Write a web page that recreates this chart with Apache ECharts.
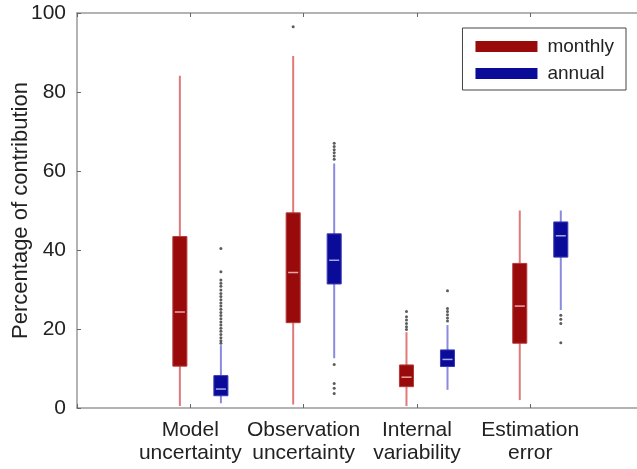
<!DOCTYPE html>
<html>
<head>
<meta charset="utf-8">
<script src="https://cdn.jsdelivr.net/npm/echarts@6/dist/echarts.min.js"></script>
<style>
  html, body { margin: 0; padding: 0; background: #fff; }
  #chart { width: 637px; height: 469px; }
</style>
</head>
<body>
<div id="chart"></div>
<script>
// categories along x
var categories = ['Model\nuncertainty', 'Observation\nuncertainty', 'Internal\nvariability', 'Estimation\nerror'];
var yTicks = [0, 20, 40, 60, 80, 100];

// box stats per category: [whisker low, q1, median, q3, whisker high]
var monthlyBoxes = [
    [0.5, 10.6, 24.3, 43.4, 84.1],
    [0.9, 21.6, 34.3, 49.4, 89.1],
    [0.5, 5.4, 7.8, 10.9, 19.2],
    [2.0, 16.4, 25.8, 36.6, 50.0]
];
var annualBoxes = [
    [1.2, 3.1, 4.8, 8.2, 15.9],
    [12.6, 31.4, 37.4, 44.1, 61.9],
    [4.6, 10.5, 12.3, 14.7, 21.0],
    [24.8, 38.2, 43.6, 47.1, 50.0]
];

// outliers per category
var monthlyOutliers = [
    [],
    [96.5],
    [24.4, 23.1, 22.3, 21.4, 20.6, 19.9],
    []
];
var annualOutliers = [
    [40.4, 34.5, 32.4, 31.6, 30.8, 29.9, 29.0, 28.2, 27.4, 26.6, 25.8, 25.0, 24.2, 23.4, 22.6, 21.8, 21.0, 20.2, 19.4, 18.6, 17.8, 17.0, 16.4],
    [67.0, 66.2, 65.4, 64.6, 63.8, 63.0, 11.0, 6.2, 5.0, 3.7],
    [29.7, 25.2, 24.4, 23.6, 22.8, 22.0],
    [23.5, 22.5, 21.4, 16.5]
];

var chart = echarts.init(document.getElementById('chart'));

var monthlyShift = -0.092, annualShift = 0.27, boxW = 0.124;

function boxData(boxes, shift) {
    return boxes.map(function (b, i) { return [i + 1 + shift].concat(b); });
}
function outlierData(list, shift) {
    var out = [];
    list.forEach(function (vals, i) {
        vals.forEach(function (v) { out.push([i + 1 + shift, v]); });
    });
    return out;
}

function makeRender(fill, edge, whisker, median) {
    return function (params, api) {
        var x = api.value(0);
        var lo = api.coord([x, api.value(1)]);
        var q1 = api.coord([x, api.value(2)]);
        var md = api.coord([x, api.value(3)]);
        var q3 = api.coord([x, api.value(4)]);
        var hi = api.coord([x, api.value(5)]);
        var w = api.size([boxW, 0])[0];
        var cx = lo[0];
        return {
            type: 'group',
            children: [
                { type: 'line', shape: { x1: cx, y1: hi[1], x2: cx, y2: lo[1] },
                  style: { stroke: whisker, lineWidth: 2 } },
                { type: 'rect', shape: { x: cx - w / 2, y: q3[1], width: w, height: q1[1] - q3[1] },
                  style: { fill: fill, stroke: edge, lineWidth: 1 } },
                { type: 'line', shape: { x1: cx - w / 2 + 2, y1: md[1], x2: cx + w / 2 - 2, y2: md[1] },
                  style: { stroke: median, lineWidth: 1.5 } }
            ]
        };
    };
}

var axisGray = '#9a9a9a';

option = {
    animation: false,
    grid: { left: 77, top: 13, bottom: 61, right: -6.5, containLabel: false, outerBoundsMode: 'none' },
    legend: {
        right: 11, top: 28,
        orient: 'vertical',
        itemWidth: 62, itemHeight: 11, itemGap: 8,
        padding: [9, 12, 7, 13],
        borderColor: '#444', borderWidth: 1,
        backgroundColor: '#fff',
        textStyle: { fontFamily: 'Liberation Sans, Arial', fontSize: 19, color: '#222', padding: [0, 0, 0, 5] },
        data: [
            { name: 'monthly', icon: 'rect', itemStyle: { color: '#990b0b' } },
            { name: 'annual', icon: 'rect', itemStyle: { color: '#0b0b99' } }
        ]
    },
    xAxis: [{
        type: 'value', min: 0, max: 5, interval: 1,
        axisLine: { lineStyle: { color: axisGray, width: 1.5 } },
        axisTick: { inside: true, length: 4, lineStyle: { color: '#666' } },
        splitLine: { show: false },
        axisLabel: {
            margin: 11, fontFamily: 'Liberation Sans, Arial', fontSize: 21, lineHeight: 23, color: '#222',
            formatter: function (v) { return categories[v - 1] || ''; }
        }
    }, {
        type: 'value', min: 0, max: 5, interval: 1, position: 'top',
        axisLine: { lineStyle: { color: axisGray, width: 1.5 } },
        axisTick: { inside: true, length: 4, lineStyle: { color: '#666' } },
        splitLine: { show: false },
        axisLabel: { show: false }
    }],
    yAxis: {
        type: 'value', min: yTicks[0], max: yTicks[yTicks.length - 1], interval: 20,
        name: 'Percentage of contribution',
        nameLocation: 'middle', nameGap: 45, nameMoveOverlap: false,
        nameTextStyle: { fontFamily: 'Liberation Sans, Arial', fontSize: 22, color: '#222' },
        axisLine: { show: true, lineStyle: { color: axisGray, width: 1.5 } },
        axisTick: { show: true, inside: true, length: 4, lineStyle: { color: '#666' } },
        splitLine: { show: false },
        axisLabel: { margin: 11, fontFamily: 'Liberation Sans, Arial', fontSize: 21, color: '#222' }
    },
    series: [{
        name: 'monthly', type: 'custom',
        itemStyle: { color: '#990b0b' },
        renderItem: makeRender('#990b0b', '#b53a3a', '#e07a7a', '#e8a8a8'),
        encode: { x: 0, y: [1, 2, 3, 4, 5] },
        data: boxData(monthlyBoxes, monthlyShift)
    }, {
        name: 'annual', type: 'custom',
        itemStyle: { color: '#0b0b99' },
        renderItem: makeRender('#0b0b99', '#3a3ab5', '#8a8ae0', '#a8a8e8'),
        encode: { x: 0, y: [1, 2, 3, 4, 5] },
        data: boxData(annualBoxes, annualShift)
    }, {
        type: 'scatter', symbolSize: 3,
        itemStyle: { color: '#333' },
        data: outlierData(monthlyOutliers, monthlyShift)
    }, {
        type: 'scatter', symbolSize: 3,
        itemStyle: { color: '#333' },
        data: outlierData(annualOutliers, annualShift)
    }]
};

chart.setOption(option);
</script>
</body>
</html>
